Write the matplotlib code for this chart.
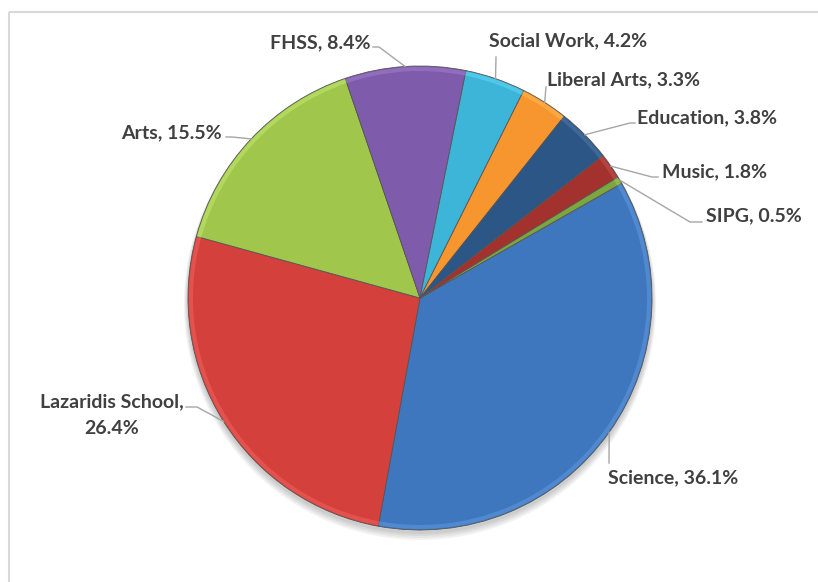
import matplotlib.pyplot as plt
from matplotlib.patches import Rectangle, Circle
import matplotlib.colors as mcolors
import numpy as np

# share of students by faculty
faculties = ["Science", "Lazaridis School", "Arts", "FHSS", "Social Work",
             "Liberal Arts", "Education", "Music", "SIPG"]
shares = [36.1, 26.4, 15.5, 8.4, 4.2, 3.3, 3.8, 1.8, 0.5]
label_text = ["Science, 36.1%", "Lazaridis School,\n26.4%", "Arts, 15.5%",
              "FHSS, 8.4%", "Social Work, 4.2%", "Liberal Arts, 3.3%",
              "Education, 3.8%", "Music, 1.8%", "SIPG, 0.5%"]
colors = ["#3F77BF", "#D4403B", "#A0C64C", "#7E5CAB", "#3DB5D9",
          "#F7962F", "#2B5686", "#A3322E", "#7DA63F"]

W, H = 818, 582
fig = plt.figure(figsize=(W / 100, H / 100), dpi=100)
ax = fig.add_axes([0, 0, 1, 1])

# chart frame (runs off the right and bottom edges)
ax.add_patch(Rectangle((8.5, 12), 900, 700, fill=False, ec="#D9D9D9", lw=1.5))

cx, cy, r = 420, 298, 232

# soft shadow under the pie
for i in range(4):
    ax.add_patch(Circle((cx, cy + 3 + i), r + 1 + i, color="black", alpha=0.05, lw=0))

# y axis is inverted, so counterclock=True draws clockwise on screen
wedges, _ = ax.pie(shares, colors=colors, startangle=-29.6, counterclock=True,
                   center=(cx, cy), radius=r, frame=True,
                   wedgeprops=dict(edgecolor="#555555", linewidth=0.6))

# bevel highlight along the rim
light = [mcolors.to_rgba(c) for c in colors]
light = [(min(1, c[0] + 0.18), min(1, c[1] + 0.18), min(1, c[2] + 0.18), 0.4) for c in light]
ax.pie(shares, colors=light, startangle=-29.6, counterclock=True,
       center=(cx, cy), radius=r - 1, frame=True,
       wedgeprops=dict(width=4, linewidth=0))

ax.set_xlim(0, W)
ax.set_ylim(H, 0)
ax.set_aspect("equal")
ax.axis("off")

# label layout: text anchor, alignment, leader elbow and leader end near text
label_pos = [(608, 478, "left"), (112, 415, "center"), (222, 133, "right"),
             (370, 43, "right"), (489, 41, "left"), (547, 80, "left"),
             (637, 118, "left"), (662, 172, "left"), (706, 216, "left")]
leader_pts = [[(609, 463)], [(197, 407), (186, 407)], [(232, 137), (226, 137)],
              [(379, 47), (373, 47)], [(496, 57)], [(546, 87)],
              [(630, 123), (635, 123)], [(652, 177), (658, 177)],
              [(690, 222), (702, 222)]]

for w, txt, (tx, ty, ha), pts in zip(wedges, label_text, label_pos, leader_pts):
    mid = np.deg2rad((w.theta1 + w.theta2) / 2)
    ex, ey = cx + r * np.cos(mid), cy + r * np.sin(mid)
    xs = [ex] + [p[0] for p in pts]
    ys = [ey] + [p[1] for p in pts]
    ax.plot(xs, ys, color="#A6A6A6", lw=1.0, zorder=5)
    ax.text(tx, ty, txt, ha=ha, va="center", fontsize=14, fontweight="bold",
            family="Lato", color="#404040", linespacing=1.65, zorder=6)

fig.savefig("out.png", dpi=100)
